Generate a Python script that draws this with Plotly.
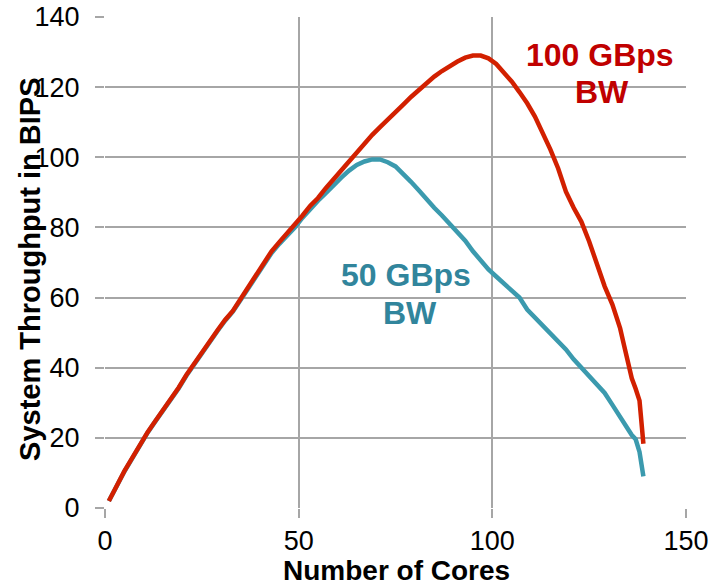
import plotly.graph_objects as go

# Throughput (BIPS) versus core count for two memory bandwidths
cores_100 = [1, 3, 5, 7, 9, 11, 13, 15, 17, 19, 21, 23, 25, 27, 29, 31, 33, 35,
             37, 39, 41, 43, 45, 47, 49, 51, 53, 55, 57, 59, 61, 63, 65, 67, 69,
             71, 73, 75, 77, 79, 81, 83, 85, 87, 89, 91, 93, 95, 97, 99, 101,
             103, 105, 107, 109, 111, 113, 115, 117, 119, 121, 123, 125, 127,
             129, 131, 133, 134, 135, 136, 137, 138, 139]
bips_100 = [2.0, 6.5, 10.5, 14.2, 18.0, 21.6, 24.8, 27.8, 31.0, 34.3, 37.9,
            41.2, 44.5, 47.8, 50.6, 53.6, 56.2, 59.6, 63.0, 66.6, 69.8, 73.2,
            75.8, 78.2, 80.6, 83.4, 86.2, 88.4, 91.2, 93.8, 96.4, 99.0, 101.6,
            104.2, 106.4, 108.6, 110.6, 112.8, 115.0, 117.2, 119.2, 121.2,
            123.0, 124.6, 126.0, 127.3, 128.4, 129.0, 129.0, 128.2, 126.6,
            124.2, 121.6, 118.6, 115.4, 111.6, 107.0, 102.2, 96.8, 90.2, 85.6,
            81.6, 76.0, 69.2, 63.2, 58.0, 51.2, 46.4, 41.4, 37.0, 34.0, 30.6,
            18.3]

cores_50 = [1, 3, 5, 7, 9, 11, 13, 15, 17, 19, 21, 23, 25, 27, 29, 31, 33, 35,
            37, 39, 41, 43, 45, 47, 49, 51, 53, 55, 57, 59, 61, 63, 65, 67, 69,
            71, 73, 75, 77, 79, 81, 83, 85, 87, 89, 91, 93, 95, 97, 99, 101,
            103, 105, 107, 109, 111, 113, 115, 117, 119, 121, 123, 125, 127,
            129, 131, 133, 135, 136, 137, 138, 139]
bips_50 = [2.0, 6.4, 10.4, 14.1, 17.9, 21.5, 24.7, 27.7, 30.9, 34.1, 37.7,
           41.0, 44.3, 47.6, 50.4, 53.4, 56.0, 59.3, 62.7, 66.2, 69.4, 72.7,
           75.3, 77.6, 80.0, 82.8, 85.4, 87.6, 89.8, 92.2, 94.2, 96.2, 97.8,
           98.8, 99.4, 99.4, 98.6, 97.4, 95.4, 93.0, 90.6, 88.0, 85.6, 83.4,
           81.0, 78.8, 76.2, 73.2, 70.4, 68.0, 66.0, 64.0, 62.0, 60.0, 56.6,
           54.4, 52.0, 49.8, 47.6, 45.2, 42.4, 40.0, 37.6, 35.6, 32.8, 29.4,
           25.8, 22.6, 20.8, 19.6, 16.0, 9.0]

x_ticks = [0, 50, 100, 150]
y_ticks = [0, 20, 40, 60, 80, 100, 120, 140]

RED_LINE = "#D22000"
BLUE_LINE = "#3B9AAE"
RED_TEXT = "#C00000"
BLUE_TEXT = "#31859C"
GRID = "#A6A6A6"
FONT = "Liberation Sans, Arial, sans-serif"

fig = go.Figure()
fig.add_trace(go.Scatter(x=cores_50, y=bips_50, mode="lines",
                         line=dict(color=BLUE_LINE, width=4.5),
                         name="50 GBps BW", showlegend=False))
fig.add_trace(go.Scatter(x=cores_100, y=bips_100, mode="lines",
                         line=dict(color=RED_LINE, width=4.5),
                         name="100 GBps BW", showlegend=False))

axis_common = dict(
    showgrid=True, gridcolor=GRID, gridwidth=2,
    zeroline=False, showline=False, automargin=False,
    ticks="outside", ticklen=9, tickwidth=2, tickcolor=GRID,
    tickfont=dict(family=FONT, size=27, color="#000000"),
)

fig.update_xaxes(range=[0, 150], tickvals=x_ticks, ticklabelstandoff=0,
                 **axis_common)
fig.update_yaxes(range=[0, 140], tickvals=y_ticks, ticklabelstandoff=10,
                 **axis_common)

fig.add_annotation(text="<b>Number of Cores</b>", xref="paper", yref="paper",
                   x=0.501, y=-0.128, xanchor="center", yanchor="middle",
                   showarrow=False,
                   font=dict(family=FONT, size=28, color="#000000"))
fig.add_annotation(text="<b>System Throughput in BIPS</b>", xref="paper",
                   yref="paper", x=-0.129, y=0.485, xanchor="center",
                   yanchor="middle", textangle=-90, showarrow=False,
                   font=dict(family=FONT, size=29, color="#000000"))

# Series labels, one annotation per text line
series_labels = [
    ("<b>100 GBps</b>", 127.9, 129.1, RED_TEXT),
    ("<b>BW</b>", 128.2, 118.6, RED_TEXT),
    ("<b>50 GBps</b>", 77.8, 66.5, BLUE_TEXT),
    ("<b>BW</b>", 78.8, 55.6, BLUE_TEXT),
]
for text, lx, ly, color in series_labels:
    fig.add_annotation(text=text, x=lx, y=ly, xanchor="center",
                       yanchor="middle", showarrow=False,
                       font=dict(family=FONT, size=32, color=color))

fig.update_layout(
    width=714, height=587,
    margin=dict(l=105, r=28, t=17, b=79),
    paper_bgcolor="#FFFFFF", plot_bgcolor="#FFFFFF",
    font=dict(family=FONT),
)

fig.write_html("out.html")
